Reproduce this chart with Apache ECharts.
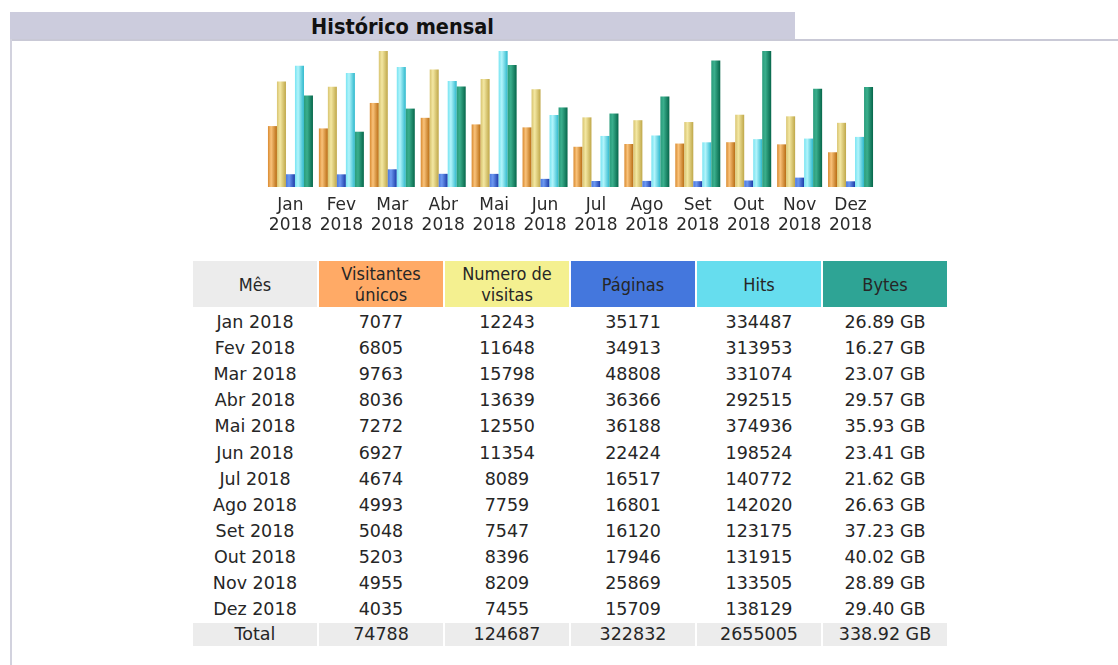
<!DOCTYPE html>
<html>
<head>
<meta charset="utf-8">
<script src="https://cdn.jsdelivr.net/npm/echarts@6/dist/echarts.min.js"></script>
<style>
  html, body { margin: 0; padding: 0; background: #ffffff; width: 1118px; height: 665px; overflow: hidden; }
  #titlebar { position: absolute; left: 10px; top: 12px; width: 785px; height: 27px; background: #ccccdd;
    font: bold 21.5px "DejaVu Sans Condensed", "DejaVu Sans", sans-serif; color: #111; text-align: center; line-height: 30px; }
  #hline { position: absolute; left: 10px; top: 39px; width: 1108px; height: 2px; background: #c9c9d6; }
  #vline { position: absolute; left: 10px; top: 39px; width: 2px; height: 626px; background: #d2d2de; }
  #chart { position: absolute; left: 0; top: 0; width: 1118px; height: 250px; }
  #tbl { position: absolute; left: 191px; top: 259px; border-collapse: separate; border-spacing: 2px; }
  #tbl td { width: 124px; padding: 0; text-align: center; font: 17.5px "DejaVu Sans", sans-serif; color: #262626; height: 24.1px; line-height: 24px; }
  #tbl tr.head td { height: 46px; line-height: 21px; font: 18px "DejaVu Sans Condensed", "DejaVu Sans", sans-serif; color: #262626; }
  #tbl tr.first td { padding-top: 1px; }
  #tbl tr.total td { background: #ececec; height: 23px; line-height: 23px; }
</style>
</head>
<body>
<div id="titlebar">Histórico mensal</div>
<div id="hline"></div>
<div id="vline"></div>
<div id="chart"></div>
<table id="tbl"></table>
<script>
// ---- data ----
const months = ['Jan', 'Fev', 'Mar', 'Abr', 'Mai', 'Jun', 'Jul', 'Ago', 'Set', 'Out', 'Nov', 'Dez'];
const year = '2018';
const visitors = [7077, 6805, 9763, 8036, 7272, 6927, 4674, 4993, 5048, 5203, 4955, 4035];
const visits = [12243, 11648, 15798, 13639, 12550, 11354, 8089, 7759, 7547, 8396, 8209, 7455];
const pages = [35171, 34913, 48808, 36366, 36188, 22424, 16517, 16801, 16120, 17946, 25869, 15709];
const hits = [334487, 313953, 331074, 292515, 374936, 198524, 140772, 142020, 123175, 131915, 133505, 138129];
const bytesGB = [26.89, 16.27, 23.07, 29.57, 35.93, 23.41, 21.62, 26.63, 37.23, 40.02, 28.89, 29.40];
const headers = ['Mês', 'Visitantes<br>únicos', 'Numero de<br>visitas', 'Páginas', 'Hits', 'Bytes'];
const headerColors = ['#ececec', '#ffaa66', '#f4f090', '#4477dd', '#66ddee', '#2ea495'];
const totalLabel = 'Total';
const totals = [74788, 124687, 322832, 2655005, '338.92'];

// ---- chart ----
function grad(c0, c1, c2) {
  return new echarts.graphic.LinearGradient(0, 0, 1, 0, [
    { offset: 0, color: c0 }, { offset: 0.35, color: c1 }, { offset: 1, color: c2 }
  ]);
}
const chart = echarts.init(document.getElementById('chart'), null, { renderer: 'canvas' });
const maxV = Math.max(...visits);
const maxH = Math.max(...hits);
const maxK = Math.max(...bytesGB);
const barW = 9;
function s(name, data, yi, color) {
  return { name, type: 'bar', data, yAxisIndex: yi, barWidth: barW, barGap: '0%',
    itemStyle: { color }, silent: true, animation: false };
}
chart.setOption({
  animation: false,
  grid: { left: 265, width: 611, top: 51, height: 136 },
  xAxis: {
    type: 'category', data: months.map(m => m + '\n' + year),
    axisLine: { show: false }, axisTick: { show: false },
    axisLabel: { interval: 0, margin: 9, fontFamily: 'DejaVu Sans', fontSize: 17, lineHeight: 20, color: '#2a2a2a' }
  },
  yAxis: [
    { type: 'value', min: 0, max: maxV, show: false },
    { type: 'value', min: 0, max: maxH, show: false },
    { type: 'value', min: 0, max: maxK, show: false }
  ],
  series: [
    s('Visitantes únicos', visitors, 0, grad('#d98a30', '#f9c27a', '#b86c12')),
    s('Numero de visitas', visits, 0, grad('#d8c470', '#f3e7a2', '#bfa748')),
    s('Páginas', pages, 1, grad('#4a78e0', '#6c98f0', '#1a3aa8')),
    s('Hits', hits, 1, grad('#78e4f2', '#b2f4fb', '#2cb8cc')),
    s('Bytes', bytesGB, 2, grad('#2a9c7c', '#3aae8c', '#06664a'))
  ]
});

// ---- table ----
const tbl = document.getElementById('tbl');
let html = '<tr class="head">' + headers.map((h, i) => '<td style="background:' + headerColors[i] + '">' + h + '</td>').join('') + '</tr>';
months.forEach((m, i) => {
  html += '<tr' + (i === 0 ? ' class="first"' : '') + '><td>' + m + ' ' + year + '</td><td>' + visitors[i] + '</td><td>' + visits[i] + '</td><td>' +
    pages[i] + '</td><td>' + hits[i] + '</td><td>' + bytesGB[i].toFixed(2) + ' GB</td></tr>';
});
html += '<tr class="total"><td>' + totalLabel + '</td><td>' + totals[0] + '</td><td>' + totals[1] + '</td><td>' +
  totals[2] + '</td><td>' + totals[3] + '</td><td>' + totals[4] + ' GB</td></tr>';
tbl.innerHTML = html;
</script>
</body>
</html>
